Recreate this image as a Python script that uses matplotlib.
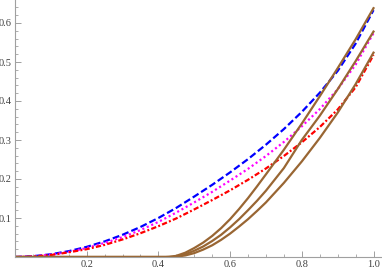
import numpy as np
import matplotlib
matplotlib.use("Agg")
import matplotlib.pyplot as plt
from matplotlib.ticker import MultipleLocator, FixedLocator

# values
x = [0.0, 0.05, 0.1, 0.15, 0.2, 0.25, 0.3, 0.35, 0.4, 0.45, 0.5,
     0.55, 0.6, 0.65, 0.7, 0.75, 0.8, 0.85, 0.9, 0.95, 1.0]

blue = [0, 0.002, 0.007, 0.015, 0.026, 0.04, 0.057, 0.077, 0.1, 0.126, 0.155,
        0.185, 0.217, 0.251, 0.288, 0.328, 0.372, 0.421, 0.477, 0.547, 0.633]
magenta = [0, 0.002, 0.006, 0.013, 0.023, 0.036, 0.051, 0.069, 0.09, 0.114, 0.14,
           0.167, 0.196, 0.226, 0.259, 0.295, 0.335, 0.379, 0.43, 0.493, 0.574]
red = [0, 0.001, 0.005, 0.012, 0.02, 0.031, 0.045, 0.061, 0.079, 0.099, 0.122,
       0.146, 0.171, 0.198, 0.227, 0.259, 0.294, 0.333, 0.378, 0.435, 0.518]

brown_x = [0.0, 0.42, 0.43, 0.44, 0.45, 0.475, 0.5, 0.525, 0.55, 0.575, 0.6,
           0.625, 0.65, 0.675, 0.7, 0.75, 0.8, 0.85, 0.9, 0.95, 1.0]
brown1 = [0, 0, 0.0005, 0.0015, 0.003, 0.011, 0.023, 0.037, 0.054, 0.074, 0.097,
          0.123, 0.151, 0.181, 0.212, 0.275, 0.342, 0.412, 0.484, 0.558, 0.638]
brown2 = [0, 0, 0, 0.0007, 0.002, 0.007, 0.016, 0.027, 0.041, 0.057, 0.076,
          0.097, 0.12, 0.144, 0.17, 0.228, 0.3, 0.362, 0.43, 0.502, 0.578]
brown3 = [0, 0, 0, 0, 0.0008, 0.004, 0.01, 0.019, 0.03, 0.044, 0.06,
          0.078, 0.097, 0.118, 0.14, 0.19, 0.245, 0.305, 0.37, 0.443, 0.524]

plt.rcParams['lines.scale_dashes'] = False

fig = plt.figure(figsize=(3.82, 2.73), dpi=100)
ax = fig.add_axes([15 / 382, 16 / 273, 367 / 382, 257 / 273])

lw = 1.6
ax.plot(x, blue, color=(0, 0, 1), lw=lw, linestyle=(0, (5, 2.2)))
ax.plot(x, magenta, color=(1, 0, 1), lw=lw, linestyle=(0, (1.5, 2.0)))
ax.plot(x, red, color=(1, 0, 0), lw=lw, linestyle=(0, (3.8, 1.6, 1.4, 1.6)))
brown = (0.6, 0.4, 0.2)
for b in (brown1, brown2, brown3):
    ax.plot(brown_x, b, color=brown, lw=lw, solid_joinstyle='round')

ax.set_xlim(0, 367 / 358.5)
ax.set_ylim(0, 257 / 390)

for s in ('top', 'right'):
    ax.spines[s].set_visible(False)
for s in ('left', 'bottom'):
    ax.spines[s].set_color('#a0a0a0')
    ax.spines[s].set_linewidth(0.8)

ax.xaxis.set_major_locator(FixedLocator([0.2, 0.4, 0.6, 0.8, 1.0]))
ax.xaxis.set_minor_locator(MultipleLocator(0.05))
ax.yaxis.set_major_locator(FixedLocator([0.1, 0.2, 0.3, 0.4, 0.5, 0.6]))
ax.yaxis.set_minor_locator(MultipleLocator(0.02))
ax.xaxis.set_major_formatter(matplotlib.ticker.FormatStrFormatter('%.1f'))
ax.yaxis.set_major_formatter(matplotlib.ticker.FormatStrFormatter('%.1f'))

ax.tick_params(which='major', direction='in', length=4, width=0.7, color='#a0a0a0',
               labelsize=7.5, labelcolor='#404040', pad=2.5)
ax.tick_params(which='minor', direction='in', length=2.3, width=0.6, color='#a0a0a0')
for lab in ax.get_xticklabels() + ax.get_yticklabels():
    lab.set_family('Liberation Serif')

fig.savefig('out.png', dpi=100)
